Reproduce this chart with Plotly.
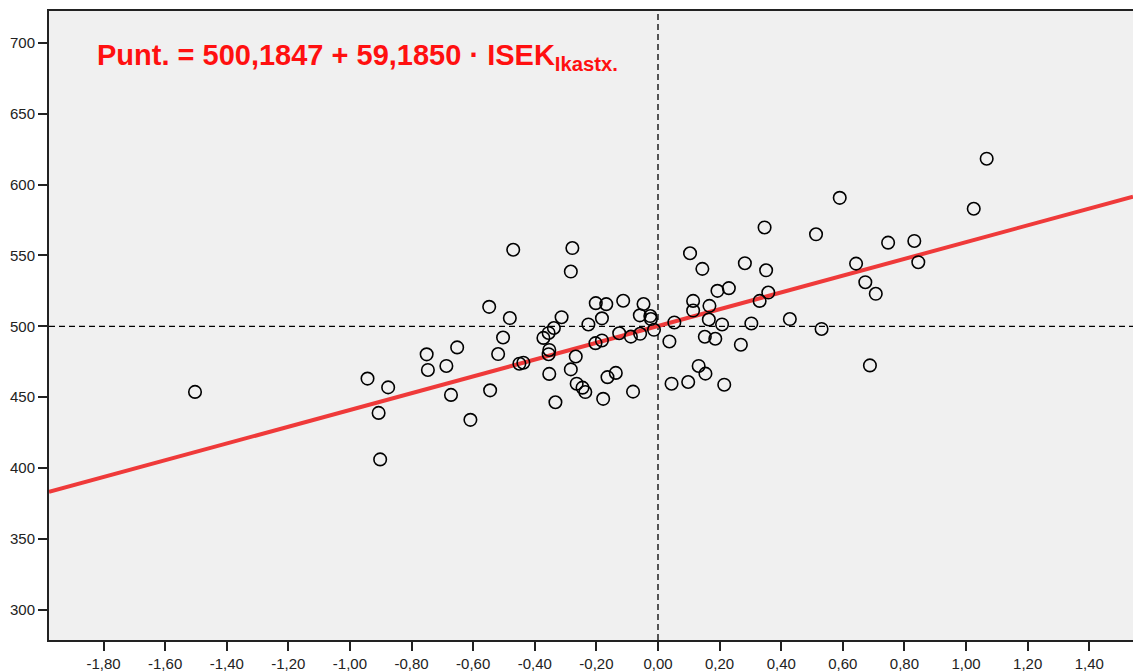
import plotly.graph_objects as go

# ISEK (ikastetxea) eta puntuazioa
isek = [
    -1.503, -0.943, -0.907, -0.902, -0.876, -0.751, -0.747, -0.687, -0.672, -0.652,
    -0.609, -0.548, -0.545, -0.519, -0.503, -0.481, -0.470, -0.450, -0.437, -0.372,
    -0.355, -0.338, -0.353, -0.355, -0.353, -0.333, -0.313, -0.283, -0.278, -0.283,
    -0.267, -0.264, -0.245, -0.236, -0.226, -0.202, -0.203, -0.182, -0.182, -0.178,
    -0.168, -0.164, -0.137, -0.126, -0.113, -0.088, -0.081, -0.058, -0.059, -0.047,
    -0.025, -0.023, -0.013, 0.037, 0.044, 0.053, 0.098, 0.104, 0.114, 0.114,
    0.132, 0.144, 0.152, 0.154, 0.165, 0.167, 0.186, 0.193, 0.208, 0.215,
    0.230, 0.269, 0.282, 0.303, 0.330, 0.346, 0.351, 0.358, 0.428, 0.513,
    0.531, 0.590, 0.643, 0.673, 0.688, 0.707, 0.747, 0.832, 0.845, 1.025,
    1.067,
]
puntuazioa = [
    453.7, 463.1, 438.9, 406.1, 456.9, 480.2, 469.2, 472.0, 451.6, 485.1,
    434.0, 513.7, 454.8, 480.4, 492.1, 505.8, 554.0, 473.6, 474.3, 491.8,
    495.3, 498.8, 483.3, 480.3, 466.4, 446.4, 506.4, 538.6, 555.2, 469.6,
    478.7, 459.5, 456.7, 453.6, 501.3, 516.3, 488.1, 490.0, 505.6, 448.8,
    515.6, 464.1, 467.1, 495.1, 518.0, 492.7, 453.9, 494.7, 507.7, 515.7,
    507.2, 505.1, 497.5, 489.3, 459.5, 502.7, 460.7, 551.5, 517.9, 511.1,
    472.0, 540.5, 492.6, 466.6, 504.8, 514.4, 491.2, 525.0, 501.3, 458.8,
    526.9, 487.0, 544.5, 502.0, 517.9, 569.7, 539.5, 523.8, 505.1, 564.9,
    498.1, 590.6, 544.2, 531.1, 472.4, 522.9, 559.0, 560.2, 545.2, 582.9,
    618.2,
]

# Erregresio zuzena
INTERCEPT = 500.1847
SLOPE = 59.1850
MEAN_Y = 500

X_RANGE = [-1.977, 1.542]
Y_RANGE = [278.7, 722.4]

x_tickvals = [-1.8, -1.6, -1.4, -1.2, -1.0, -0.8, -0.6, -0.4, -0.2, 0.0,
              0.2, 0.4, 0.6, 0.8, 1.0, 1.2, 1.4]
x_ticktext = [f"{v:.2f}".replace(".", ",") for v in x_tickvals]
y_tickvals = [300, 350, 400, 450, 500, 550, 600, 650, 700]

fig = go.Figure()

# dashed reference lines
fig.add_trace(go.Scatter(
    x=X_RANGE, y=[MEAN_Y, MEAN_Y], mode="lines",
    line=dict(color="black", width=1.3, dash="6px,4px"),
    hoverinfo="skip", showlegend=False))
fig.add_trace(go.Scatter(
    x=[0, 0], y=Y_RANGE, mode="lines",
    line=dict(color="black", width=1.3, dash="6px,4px"),
    hoverinfo="skip", showlegend=False))

# regression line
fig.add_trace(go.Scatter(
    x=X_RANGE, y=[INTERCEPT + SLOPE * v for v in X_RANGE], mode="lines",
    line=dict(color="#EF3A3A", width=4),
    hoverinfo="skip", showlegend=False))

fig.add_trace(go.Scatter(
    x=isek, y=puntuazioa, mode="markers",
    marker=dict(symbol="circle", size=12.5, color="rgba(0,0,0,0)",
                line=dict(color="black", width=1.6)),
    showlegend=False))

fig.add_annotation(
    xref="paper", yref="paper", x=0.042, y=0.927,
    xanchor="left", yanchor="middle", showarrow=False,
    text="<b>Punt. = 500,1847 + 59,1850 · ISEK<sub>Ikastx.</sub></b>",
    font=dict(family="Liberation Sans, Arial", size=29, color="#FF1010"))

axis_common = dict(
    showgrid=False, zeroline=False, showline=True, linecolor="#222",
    linewidth=2, ticks="outside", ticklen=9, tickwidth=2, tickcolor="#222",
    tickfont=dict(family="Liberation Sans, Arial", size=15, color="#222"))

fig.update_xaxes(range=X_RANGE, tickvals=x_tickvals, ticktext=x_ticktext,
                 mirror=True, **axis_common)
fig.update_yaxes(range=Y_RANGE, tickvals=y_tickvals, **axis_common)

fig.update_layout(
    width=1133, height=672,
    margin=dict(l=49, r=0, t=11, b=30),
    plot_bgcolor="#F0F0F0", paper_bgcolor="white",
)

fig.write_html("out.html", config={"displayModeBar": False},
               post_script="document.body.style.margin='0';")
